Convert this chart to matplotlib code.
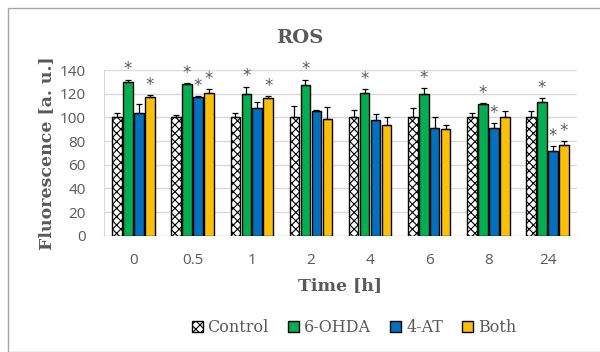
import numpy as np
import matplotlib.pyplot as plt
from matplotlib.patches import Rectangle

# Data
times = ["0", "0.5", "1", "2", "4", "6", "8", "24"]
control = [100, 100, 100, 100, 100, 100, 100, 100]
control_err = [4, 2, 4, 10, 6, 8, 4, 5]
ohda = [130, 128, 120, 127, 121, 120, 111, 113]
ohda_err = [2, 1, 6, 5, 3, 5, 1, 3]
at4 = [104, 117, 108, 105, 98, 91, 91, 72]
at4_err = [7, 1, 5, 1, 5, 9, 4, 4]
both = [117, 121, 116, 99, 94, 90, 100, 77]
both_err = [2, 3, 2, 10, 6, 4, 5, 3]
# significance marks (True = asterisk above bar)
ohda_sig = [True] * 8
at4_sig = [False, True, False, False, False, False, True, True]
both_sig = [True, True, True, False, False, False, False, True]

grey = "#595959"
plt.rcParams["font.family"] = ["DejaVu Serif"]
plt.rcParams["hatch.linewidth"] = 0.8

fig = plt.figure(figsize=(6, 3.52), dpi=100)
fig.patches.append(Rectangle((8 / 600, 0), 1, 1 - 8 / 352, transform=fig.transFigure,
                             fill=False, edgecolor="#a6a6a6", lw=1))
ax = fig.add_axes([0.173, 0.33, 0.789, 0.471])

x = np.arange(len(times))
w = 0.16
gap = 0.025
offs = np.array([-1.5, -0.5, 0.5, 1.5]) * (w + gap)

series = [
    ("Control", control, control_err, "white", "xxxx", None),
    ("6-OHDA", ohda, ohda_err, "#00B050", None, ohda_sig),
    ("4-AT", at4, at4_err, "#0070C0", None, at4_sig),
    ("Both", both, both_err, "#FFC000", None, both_sig),
]

for i, (name, vals, errs, col, hatch, sig) in enumerate(series):
    pos = x + offs[i]
    ax.bar(pos, vals, w, color=col, edgecolor="black", linewidth=1, hatch=hatch,
           label=name, zorder=3)
    ax.errorbar(pos, vals, yerr=[np.zeros(len(vals)), errs], fmt="none",
                ecolor="black", elinewidth=0.9, capsize=2.5, capthick=0.9, zorder=4)
    if sig:
        for p, v, e, s in zip(pos, vals, errs, sig):
            if s:
                ax.text(p, v + e + 1, "*", ha="center", va="bottom", color=grey,
                        fontsize=12, family="DejaVu Sans", zorder=5)

ax.set_ylim(0, 140)
ax.set_xlim(-0.5, len(times) - 0.5)
ax.set_yticks(range(0, 141, 20))
ax.set_xticks(x)
ax.set_xticklabels(times)
ax.yaxis.grid(True, color="#d9d9d9", lw=1, zorder=0)
ax.set_axisbelow(True)
for s in ["top", "right", "bottom"]:
    ax.spines[s].set_visible(False)
ax.spines["left"].set_color("#d9d9d9")
ax.axhline(0, color="#d9d9d9", lw=1, zorder=2)
ax.tick_params(length=0, labelsize=11, labelcolor=grey)
ax.tick_params(axis="y", pad=13)
ax.tick_params(axis="x", pad=12)
for lab in ax.get_xticklabels() + ax.get_yticklabels():
    lab.set_family("Open Sans")

ax.set_ylabel("Fluorescence [a. u.]", fontsize=12.5, fontweight="bold", color=grey, labelpad=3)
ax.set_xlabel("Time [h]", fontsize=12.5, fontweight="bold", color=grey, labelpad=7)
fig.text(0.5, 0.893, "ROS", ha="center", va="center", fontsize=14, fontweight="bold", color=grey)

leg = fig.legend(loc="center", bbox_to_anchor=(0.59, 0.07), ncol=4, frameon=False,
                 fontsize=11.5, handlelength=0.7, handleheight=0.7, handletextpad=0.3,
                 columnspacing=1.2, labelcolor=grey)

fig.savefig("out.png", dpi=100)
